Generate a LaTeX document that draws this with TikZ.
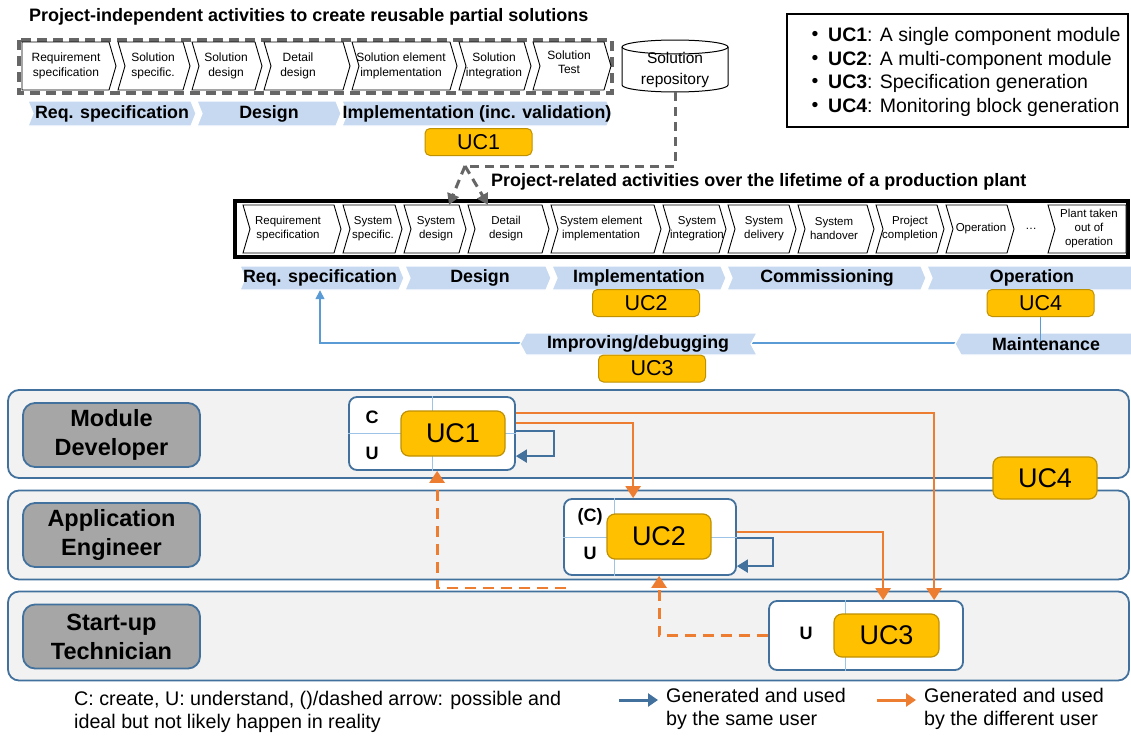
\documentclass[tikz,border=0pt]{standalone}
\usepackage{fontspec}
\setmainfont{Liberation Sans}
\usetikzlibrary{arrows.meta,calc}

\definecolor{phase}{HTML}{C6D9F1}
\definecolor{ucfill}{HTML}{FFC000}
\definecolor{ucdraw}{HTML}{BF9000}
\definecolor{lanefill}{HTML}{F2F2F2}
\definecolor{laneblue}{HTML}{41719C}
\definecolor{rolefill}{HTML}{A6A6A6}
\definecolor{arrorange}{HTML}{ED7D31}
\definecolor{lineblue}{HTML}{5B9BD5}
\definecolor{gridblue}{HTML}{9DC3E6}
\definecolor{dashgray}{HTML}{666666}

\newcommand\fsz[2]{\fontsize{#1}{#2}\selectfont}
% chevron pointing right: [style]{x left}{x right}{y top}{y bottom}{depth}
\newcommand\chevshape[6][chev]{\path[#1] (#2,#4) -- ({#3-#6},#4) -- (#3,{(#4+#5)/2}) -- ({#3-#6},#5) -- (#2,#5) -- ({#2+#6},{(#4+#5)/2}) -- cycle;}
% chevron pointing left
\newcommand\backshape[6][phasebar]{\path[#1] (#2,{(#4+#5)/2}) -- ({#2+#6},#4) -- (#3,#4) -- ({#3-#6},{(#4+#5)/2}) -- (#3,#5) -- ({#2+#6},#5) -- cycle;}

\tikzset{
  chev/.style={draw=black, fill=white, line width=0.9},
  chevtxt/.style={align=center, inner sep=0, minimum height=48, font=\fsz{12}{14.5}},
  chevtxtm/.style={align=center, inner sep=0, minimum height=48, font=\fsz{11.5}{14}},
  phasebar/.style={fill=phase, draw=white, line width=1.2},
  phasetxt/.style={inner sep=0, minimum height=24, font=\bfseries\fsz{17.8}{20}},
  titletxt/.style={inner sep=0, font=\bfseries\fsz{18}{20}},
  ucsmall/.style={fill=ucfill, draw=ucdraw, line width=1, rounded corners=5, minimum width=107, minimum height=27, inner sep=0, font=\fsz{21.5}{24}},
  ucbig/.style={fill=ucfill, draw=ucdraw, line width=1.2, rounded corners=8, inner sep=0, font=\fsz{27}{30}},
  lane/.style={fill=lanefill, draw=laneblue, line width=1.8, rounded corners=11, inner sep=0},
  role/.style={fill=rolefill, draw=laneblue, line width=1.8, rounded corners=12, inner sep=0, minimum width=177, minimum height=64, align=center, font=\bfseries\fsz{23.5}{29}},
  ucframe/.style={fill=white, draw=laneblue, line width=1.8, rounded corners=8, inner sep=0},
  gridline/.style={draw=gridblue, line width=1},
  cutxt/.style={inner sep=0, font=\bfseries\fsz{18}{20}},
  selfloop/.style={draw=laneblue, line width=2, -{Triangle[length=11pt,width=13pt]}},
  handover/.style={draw=arrorange, line width=2.5, -{Triangle[length=12pt,width=15pt]}},
  maybe/.style={draw=arrorange, line width=2.8, dash pattern=on 11pt off 7pt, -{Triangle[length=12pt,width=15pt]}},
  graydash/.style={draw=dashgray, line width=3, dash pattern=on 9pt off 6pt},
  bluethin/.style={draw=lineblue, line width=1.5},
  legtxt/.style={inner sep=0, align=left, font=\fsz{19.7}{22.5}},
}

\begin{document}
\begin{tikzpicture}[x=1pt, y=-1pt, >={Triangle[length=9pt,width=11pt]}]
\useasboundingbox (0,0) rectangle (1131,736);
\fill[white] (0,0) rectangle (1131,736);

% ---------- project-independent activities ----------
\node[titletxt, anchor=west] (ttop) at (29,17) {Project-independent activities to create reusable partial solutions};
\draw[draw=dashgray, line width=4, dash pattern=on 10pt off 6pt] (19,40) rectangle (612,93);

\path[chev] (22,42) -- (109,42) -- (116,66) -- (109,90) -- (22,90) -- cycle;
\chevshape{118}{190}{42}{90}{7}
\chevshape{192}{262}{42}{90}{7}
\chevshape{264}{350}{42}{90}{7}
\chevshape{352}{457}{42}{90}{7}
\chevshape{459}{531}{42}{90}{7}
\chevshape{533}{611}{42}{90}{7}
\node[chevtxt] (s1) at (66,66) {Requirement\\specification};
\node[chevtxt] (s2) at (153,66) {Solution\\specific.};
\node[chevtxt] (s3) at (226,66) {Solution\\design};
\node[chevtxt] (s4) at (298,66) {Detail\\design};
\node[chevtxt] (s5) at (401,66) {Solution element\\implementation};
\node[chevtxt] (s6) at (494,66) {Solution\\integration};
\node[chevtxt] (s7) at (569,62) {Solution\\Test};

% solution repository
\draw[fill=white, line width=1] (622,47) -- (622,85) arc[start angle=180, end angle=0, x radius=53, y radius=7] -- (728,47);
\draw[fill=white, line width=1] (675,47) ellipse[x radius=53, y radius=7];
\node[inner sep=0, align=center, font=\fsz{15.5}{21}] (repo) at (675,70) {Solution\\repository};
\coordinate (repobot) at (675,92);

\chevshape[phasebar]{28}{196}{101}{126}{5}
\chevshape[phasebar]{197}{341}{101}{126}{5}
\chevshape[phasebar]{342}{612}{101}{126}{5}
\node[phasetxt] (pa1) at (112,114) {Req. specification};
\node[phasetxt] (pa2) at (269,114) {Design};
\node[phasetxt] (pa3) at (477,114) {Implementation (inc. validation)};

\node[ucsmall] (ucA) at (478.5,142) {UC1};

% ---------- project-related activities ----------
\node[titletxt, anchor=west] (tmid) at (491,182) {Project-related activities over the lifetime of a production plant};
\draw[line width=4] (235,201) rectangle (1128,257);
\chevshape{243}{341}{205}{253}{7}
\chevshape{343}{402}{205}{253}{7}
\chevshape{404}{466}{205}{253}{7}
\chevshape{468}{549}{205}{253}{7}
\chevshape{551}{661}{205}{253}{7}
\chevshape{663}{726}{205}{253}{7}
\chevshape{728}{796}{205}{253}{7}
\chevshape{798}{874}{205}{253}{7}
\chevshape{876}{944}{205}{253}{7}
\chevshape{946}{1014}{205}{253}{7}
\path[chev] (1048,205) -- (1126,205) -- (1126,253) -- (1048,253) -- (1055,229) -- cycle;
\node[chevtxtm] (m1) at (288,229) {Requirement\\specification};
\node[chevtxtm] (m2) at (373,229) {System\\specific.};
\node[chevtxtm] (m3) at (436,229) {System\\design};
\node[chevtxtm] (m4) at (506,229) {Detail\\design};
\node[chevtxtm] (m5) at (601,229) {System element\\implementation};
\node[chevtxtm] (m6) at (697,229) {System\\integration};
\node[chevtxtm] (m7) at (764,229) {System\\delivery};
\node[chevtxtm] (m8) at (834,229) {System\\handover};
\node[chevtxtm] (m9) at (910,229) {Project\\completion};
\node[chevtxtm] (m10) at (981,229) {Operation};
\node[chevtxtm] (m11) at (1031,229) {\dots};
\node[chevtxtm] (m12) at (1089,229) {Plant taken\\out of\\operation};

% reuse of the repository
\coordinate (split) at (465,166);
\draw[graydash] (repobot) |- (split);
\draw[graydash, -{Triangle[length=11pt,width=12pt]}] (split) -- ($(m3.north)+(13,0)$);
\draw[graydash, -{Triangle[length=11pt,width=12pt]}] (split) -- ($(m4.north)+(-18,0)$);

\chevshape[phasebar]{240}{404}{266}{290}{5}
\chevshape[phasebar]{405}{551}{266}{290}{5}
\chevshape[phasebar]{552}{726}{266}{290}{5}
\chevshape[phasebar]{727}{926}{266}{290}{5}
\chevshape[phasebar]{927}{1140}{266}{290}{5}
\node[phasetxt] (pb1) at (320,278) {Req. specification};
\node[phasetxt] (pb2) at (480,278) {Design};
\node[phasetxt] (pb3) at (639,278) {Implementation};
\node[phasetxt] (pb4) at (827,278) {Commissioning};
\node[phasetxt] (pb5) at (1032,278) {Operation};

\node[ucsmall] (ucB) at (646,303) {UC2};
\node[ucsmall] (ucD) at (1040.5,303) {UC4};

% feedback from maintenance to the requirements
\coordinate (junc) at (1040.5,343);
\draw[bluethin, -{Triangle[length=9pt,width=9pt]}] (junc) -| (pb1.south);
\backshape{520}{757}{333}{355}{6}
\backshape{955}{1140}{333}{355}{6}
\draw[bluethin] (ucD.south) -- (junc);
\node[phasetxt] (pc1) at (638,344) {Improving/debugging};
\node[phasetxt] (pc2) at (1046,344) {Maintenance};
\node[ucsmall] (ucC) at (652,368.5) {UC3};

% ---------- legend of use cases ----------
\draw[line width=1.2] (787,14) rectangle (1128,127);
\foreach \yy/\nm/\bt/\rt in {36/la/UC1/A single component module, 60/lb/UC2/A multi-component module, 83/lc/UC3/Specification generation, 107/ld/UC4/Monitoring block generation}{
  \node[inner sep=0, font=\fsz{19.5}{22}] (\nm b) at (815,\yy) {\textbullet};
  \node[inner sep=0, anchor=west, font=\fsz{19.5}{22}] (\nm) at (828,\yy) {\textbf{\bt}: \rt};
}

% ---------- swimlanes ----------
\node[lane, minimum width=1121, minimum height=88] (lane1) at (568.5,434) {};
\node[lane, minimum width=1121, minimum height=89] (lane2) at (568.5,535) {};
\node[lane, minimum width=1121, minimum height=89] (lane3) at (568.5,636) {};
\node[role] (r1) at (111.5,435) {Module\\Developer};
\node[role] (r2) at (111.5,535) {Application\\Engineer};
\node[role] (r3) at (111.5,636.5) {Start-up\\Technician};

% use case 1
\node[ucframe, minimum width=166, minimum height=73] (cont1) at (432,433.5) {};
\draw[gridline] (cont1.north) -- (cont1.south);
\draw[gridline] (cont1.west) -- (cont1.east);
\node[cutxt] (c1c) at (372,417) {C};
\node[cutxt] (c1u) at (372,453) {U};
\node[ucbig, minimum width=104, minimum height=45] (uc1) at (453,433.5) {UC1};

% use case 2
\node[ucframe, minimum width=172, minimum height=76] (cont2) at (650,537) {};
\draw[gridline] ($(cont2.north west)+(51,0)$) -- ($(cont2.south west)+(51,0)$);
\draw[gridline] (cont2.west) -- (cont2.east);
\node[cutxt] (c2c) at (590,517) {(C)};
\node[cutxt] (c2u) at (590,553) {U};
\node[ucbig, minimum width=104, minimum height=45] (uc2) at (659,536.5) {UC2};

% use case 3
\node[ucframe, minimum width=194, minimum height=69] (cont3) at (866,635.5) {};
\draw[gridline] ($(cont3.north west)+(77,0)$) -- ($(cont3.south west)+(77,0)$);
\node[cutxt] (c3u) at (806,633) {U};
\node[ucbig, minimum width=105, minimum height=43] (uc3) at (886.5,635.5) {UC3};

% use case 4
\node[ucbig, minimum width=104, minimum height=42] (uc4) at (1045,478) {UC4};

% generated and used by the same user
\draw[selfloop] ($(cont1.north east)+(0,35)$) -- ++(38,0) -- ++(0,25) -- ($(cont1.north east)+(0,60)$);
\draw[selfloop] ($(cont2.north east)+(0,40)$) -- ++(36,0) -- ++(0,28) -- ($(cont2.north east)+(0,68)$);

% generated and used by a different user
\draw[handover] ($(cont1.north east)+(0,17)$) -| ($(cont3.north west)+(166,0)$);
\draw[handover] ($(cont1.north east)+(0,27)$) -| ($(cont2.north west)+(70,0)$);
\draw[handover] ($(cont2.north east)+(0,34)$) -| ($(cont3.north west)+(115,0)$);
\coordinate (dstart) at (566,588);
\draw[maybe] (cont3.west) -| ($(cont2.south west)+(96,0)$);
\draw[maybe] (dstart) -| ($(cont1.south west)+(89,0)$);

% ---------- notation ----------
\node[legtxt, anchor=west] (note) at (74,712) {C: create, U: understand, ()/dashed arrow: possible and\\ideal but not likely happen in reality};
\coordinate (lb1) at (619,700); \coordinate (lb2) at (658,700);
\draw[draw=laneblue, line width=3, -{Triangle[length=10pt,width=13pt]}] (lb1) -- (lb2);
\node[legtxt, anchor=west] (legsame) at (666,709) {Generated and used\\by the same user};
\coordinate (lo1) at (877,700); \coordinate (lo2) at (916,700);
\draw[draw=arrorange, line width=3, -{Triangle[length=10pt,width=13pt]}] (lo1) -- (lo2);
\node[legtxt, anchor=west] (legdiff) at (924,709) {Generated and used\\by the different user};
\end{tikzpicture}
\end{document}
